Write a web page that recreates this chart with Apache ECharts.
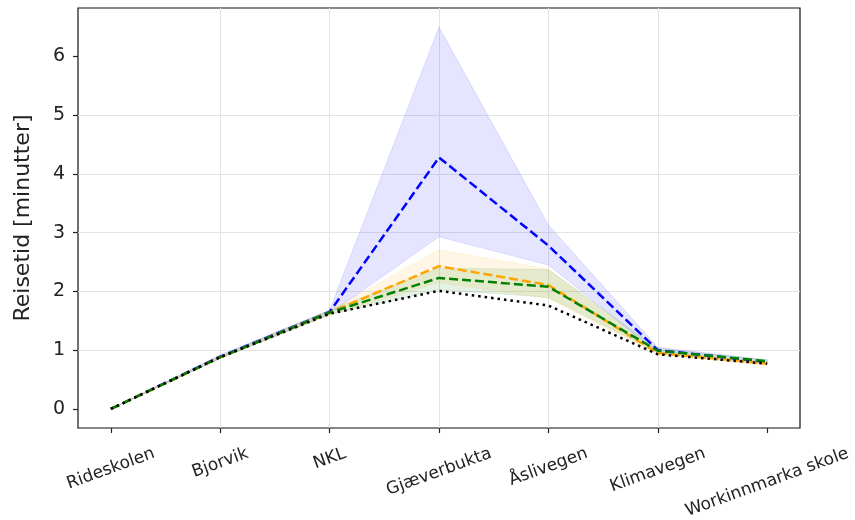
<!DOCTYPE html>
<html>
<head>
<meta charset="utf-8">
<title>Reisetid</title>
<script src="https://cdn.jsdelivr.net/npm/echarts@6/dist/echarts.min.js"></script>
<style>
  html, body { margin: 0; padding: 0; background: #fff; }
  #chart { width: 855px; height: 520px; }
</style>
</head>
<body>
<div id="chart"></div>
<script>
// Stops along the route
const stops = ['Rideskolen', 'Bjorvik', 'NKL', 'Gjæverbukta', 'Åslivegen', 'Klimavegen', 'Workinnmarka skole'];
const yTicks = [0, 1, 2, 3, 4, 5, 6];

// Travel time (minutes) per scenario
const timeBase    = [0, 0.88, 1.62, 2.01, 1.76, 0.93, 0.77];
const timeBlue    = [0, 0.89, 1.65, 4.28, 2.78, 1.00, 0.80];
const timeOrange  = [0, 0.88, 1.64, 2.43, 2.11, 0.95, 0.77];
const timeGreen   = [0, 0.88, 1.64, 2.23, 2.08, 0.99, 0.81];

// Spread (lower / upper) per scenario
const blueLow     = [0, 0.86, 1.62, 2.93, 2.45, 0.95, 0.77];
const blueHigh    = [0, 0.92, 1.68, 6.50, 3.13, 1.05, 0.83];
const orangeLow   = [0, 0.86, 1.60, 2.15, 1.88, 0.92, 0.74];
const orangeHigh  = [0, 0.90, 1.68, 2.71, 2.38, 0.98, 0.80];
const greenLow    = [0, 0.86, 1.60, 2.03, 1.90, 0.96, 0.78];
const greenHigh   = [0, 0.90, 1.68, 2.40, 2.37, 1.03, 0.84];

const FONT = '"DejaVu Sans", sans-serif';
const TEXT = '#222';
const LABEL_SIZE = 17;
const ROT = 20;
const LABEL_GAP = 17;   // distance from axis line to the top of each rotated label
const LABEL_MARGIN = 8;

// Rotated labels are centred under their tick; the vertical offset depends on label width.
const measure = document.createElement('canvas').getContext('2d');
measure.font = LABEL_SIZE + 'px ' + FONT;
const rad = ROT * Math.PI / 180;
const labelRich = {};
stops.forEach((name, i) => {
  const w = measure.measureText(name).width;
  const h = LABEL_SIZE;
  const halfExtent = w / 2 * Math.sin(rad) + h / 2 * Math.cos(rad);
  const d = LABEL_GAP + halfExtent - LABEL_MARGIN;
  const padTop = 2 * Math.cos(rad) * d;
  const padRight = padTop * Math.tan(rad);
  labelRich['s' + i] = {
    fontSize: LABEL_SIZE, fontFamily: FONT, color: TEXT,
    padding: [padTop, padRight, 0, 0]
  };
});

const toPoints = arr => arr.map((v, i) => [i, v]);

function band(lower, upper, color) {
  return {
    type: 'custom',
    silent: true,
    z: 1,
    data: [[0, 0]],
    renderItem(params, api) {
      const pts = [];
      upper.forEach((v, i) => pts.push(api.coord([i, v])));
      for (let i = lower.length - 1; i >= 0; i--) pts.push(api.coord([i, lower[i]]));
      return {
        type: 'polygon',
        shape: { points: pts },
        style: { fill: color, stroke: color, lineWidth: 1 }
      };
    }
  };
}

function line(values, color, dash, z) {
  return {
    type: 'line',
    data: toPoints(values),
    symbol: 'none',
    silent: true,
    z: z,
    lineStyle: { color: color, width: 2.5, type: dash, cap: 'butt' }
  };
}

const gridLine = { show: true, showMinLine: false, showMaxLine: false, lineStyle: { color: '#e4e4e4', width: 1 } };

const option = {
  animation: false,
  backgroundColor: '#fff',
  grid: {
    left: 78, right: 55, top: 8, bottom: 92,
    outerBoundsMode: 'none',
    containLabel: false,
    show: true, borderColor: '#111', borderWidth: 1.2, backgroundColor: 'transparent'
  },
  xAxis: {
    type: 'value',
    min: -0.3, max: 6.3, splitNumber: 7,
    axisLine: { show: false, onZero: false },
    axisTick: { show: true, customValues: stops.map((_, i) => i), length: 5, lineStyle: { color: TEXT, width: 1.2 } },
    axisLabel: {
      customValues: stops.map((_, i) => i),
      rotate: ROT,
      align: 'center',
      verticalAlign: 'middle',
      margin: LABEL_MARGIN,
      formatter: v => '{s' + v + '|' + stops[v] + '}',
      rich: labelRich
    },
    splitLine: gridLine
  },
  yAxis: {
    type: 'value',
    min: -0.325, max: 6.825, splitNumber: 7,
    name: 'Reisetid [minutter]',
    nameLocation: 'middle',
    nameRotate: 90,
    nameGap: 44,
    nameTextStyle: { fontSize: 22, fontFamily: FONT, color: TEXT },
    axisLine: { show: false, onZero: false },
    axisTick: { show: true, customValues: yTicks, length: 5, lineStyle: { color: TEXT, width: 1.2 } },
    axisLabel: {
      customValues: yTicks,
      margin: 13,
      fontSize: 19, fontFamily: FONT, color: TEXT
    },
    splitLine: gridLine
  },
  series: [
    band(blueLow, blueHigh, 'rgba(0,0,255,0.1)'),
    band(orangeLow, orangeHigh, 'rgba(255,165,0,0.1)'),
    band(greenLow, greenHigh, 'rgba(0,128,0,0.1)'),
    line(timeBlue, '#0000ff', [9, 4], 2),
    line(timeOrange, '#ffa500', [9, 4], 3),
    line(timeGreen, '#008000', [9, 4], 4),
    line(timeBase, '#000000', [2.5, 4], 5)
  ]
};

const chart = echarts.init(document.getElementById('chart'), null, { renderer: 'canvas' });
chart.setOption(option);
</script>
</body>
</html>
